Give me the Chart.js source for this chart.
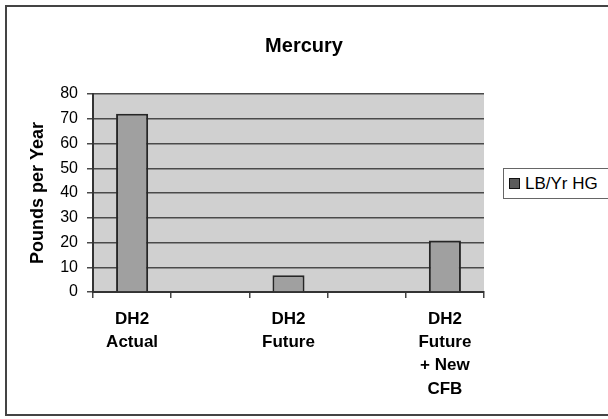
<!DOCTYPE html>
<html lang="en">
  <head>
    <meta charset="UTF-8" />
    <title>Mercury</title>
    <script src="https://cdn.jsdelivr.net/npm/chart.js"></script>
    <style>
      body {
        margin: 0;
        background: #fff;
        font-family: "Liberation Sans", Arial, sans-serif;
      }
      .frame {
        position: absolute;
        left: 5px;
        top: 5px;
        width: 640px;
        height: 407px;
        border: 2px solid #444;
      }
      .chart-box {
        position: absolute;
        left: 0;
        top: 0;
        width: 608px;
        height: 419px;
      }
      .legend {
        position: absolute;
        left: 503px;
        top: 168px;
        width: 130px;
        height: 29px;
        border: 1px solid #666;
        background: #fff;
        display: flex;
        align-items: center;
        font-size: 17px;
        color: #000;
      }
      .legend i {
        display: inline-block;
        width: 9px;
        height: 9px;
        margin: 0 5px 0 5px;
        border: 1px solid #111;
        background: #5c5c5c;
      }
    </style>
  </head>
  <body>
    <div class="frame"></div>
    <div class="chart-box">
      <canvas id="myChart" width="608" height="419"></canvas>
    </div>
    <div class="legend"><i></i><span id="legend-text"></span></div>
  </body>
  <script>
    // empty slots between the labelled categories (labels every other one)
    const categories = [["DH2", "Actual"], "", ["DH2", "Future"], "", ["DH2", "Future", "+ New", "CFB"]];
    const seriesName = "LB/Yr HG";
    const mercuryValues = [72, null, 6.8, null, 20.8];
    const yTicks = [0, 10, 20, 30, 40, 50, 60, 70, 80];

    const plotBg = {
      id: "plotBg",
      beforeDraw(chart) {
        const { ctx, chartArea: a } = chart;
        ctx.save();
        ctx.fillStyle = "#d0d0d0";
        ctx.fillRect(a.left, a.top, a.right - a.left, a.bottom - a.top);
        ctx.restore();
      },
    };

    const ctx = document.getElementById("myChart");
    const myChart = new Chart(ctx, {
      type: "bar",
      data: {
        labels: categories,
        datasets: [
          {
            label: seriesName,
            data: mercuryValues,
            backgroundColor: "#a0a0a0",
            borderColor: "#262626",
            borderWidth: 2,
            categoryPercentage: 1,
            barPercentage: 0.41,
          },
        ],
      },
      options: {
        responsive: false,
        animation: false,
        layout: { padding: 0 },
        plugins: {
          legend: { display: false },
          tooltip: { enabled: false },
          title: {
            display: true,
            text: "Mercury",
            color: "#000",
            font: { family: "Liberation Sans", size: 20, weight: "bold" },
            padding: { top: 34, bottom: 36 },
          },
        },
        scales: {
          x: {
            grid: {
              offset: true,
              drawOnChartArea: false,
              color: "#444",
              tickLength: 6,
              lineWidth: 1.5,
            },
            border: { color: "#333", width: 2 },
            ticks: {
              autoSkip: false,
              maxRotation: 0,
              padding: 10,
              color: "#000",
              font: { family: "Liberation Sans", size: 17, weight: "bold", lineHeight: 1.36 },
            },
            afterFit: (s) => {
              s.height = 127;
            },
          },
          y: {
            min: 0,
            max: 80,
            afterBuildTicks: (s) => {
              s.ticks = yTicks.map((v) => ({ value: v }));
            },
            grid: { color: "#4a4a4a", lineWidth: 1.5, tickLength: 6 },
            border: { color: "#333", width: 2 },
            ticks: {
              padding: 9,
              color: "#000",
              font: { family: "Liberation Sans", size: 16 },
            },
            title: {
              display: true,
              text: "Pounds per Year",
              color: "#000",
              font: { family: "Liberation Sans", size: 18, weight: "bold" },
              padding: { top: 27 },
            },
            afterFit: (s) => {
              s.width = 93;
            },
          },
          side: {
            position: "right",
            grid: { display: false },
            border: { display: false },
            ticks: { display: false },
            afterFit: (s) => {
              s.width = 124;
            },
          },
        },
      },
      plugins: [plotBg],
    });

    document.getElementById("legend-text").textContent = myChart.data.datasets[0].label;
  </script>
</html>
